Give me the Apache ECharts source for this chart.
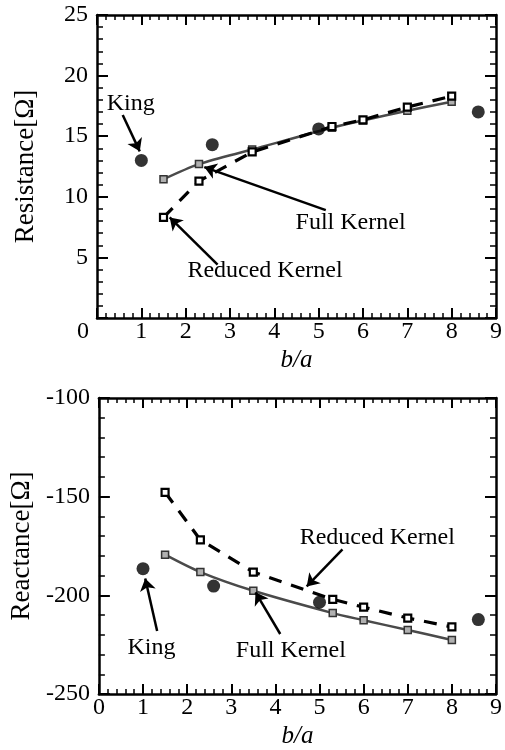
<!DOCTYPE html>
<html><head><meta charset="utf-8">
<script src="https://cdn.jsdelivr.net/npm/echarts@6/dist/echarts.min.js"></script>
<style>html,body{margin:0;padding:0;background:#fff}#c{width:505px;height:750px}</style>
</head><body><div id="c"></div>
<script>
// ---- data ----
const xKernel = [1.5, 2.3, 3.5, 5.3, 6, 7, 8];
const resFull = [11.45, 12.7, 13.9, 15.7, 16.3, 17.1, 17.85];
const resReduced = [8.3, 11.3, 13.7, 15.8, 16.35, 17.4, 18.3];
const xKing = [1, 2.6, 5, 8.6];
const resKing = [13.0, 14.3, 15.6, 17.0];
const reaFull = [-179.4, -188.2, -197.7, -209, -212.6, -217.6, -222.6];
const reaReduced = [-147.8, -171.9, -188.2, -202, -206, -211.5, -216];
const reaKing = [-186.5, -195.3, -203.5, -212.3];
const xTicks = [0, 1, 2, 3, 4, 5, 6, 7, 8, 9];
const resTicks = [0, 5, 10, 15, 20, 25];
const reaTicks = [-250, -200, -150, -100];
// annotations (data coordinates)
const annTopText = ['King', 'Full Kernel', 'Reduced Kernel'];
const annTopAt = [[0.76, 17.7], [5.72, 7.9], [3.79, 3.9]];
const annTopArrow = [[[0.58, 16.75], [0.965, 13.75]], [[5.16, 8.9], [2.42, 12.45]], [[2.72, 4.4], [1.64, 8.3]]];
const annBotText = ['Reduced Kernel', 'King', 'Full Kernel'];
const annBotAt = [[6.31, -170.7], [1.19, -226.6], [4.35, -228.1]];
const annBotArrow = [[[5.52, -176.7], [4.71, -195.5]], [[1.32, -218.1], [1.05, -191.5]], [[4.11, -219.6], [3.55, -198.5]]];

const FONT = 'Liberation Serif';
const zip = (xs, ys) => xs.map((x, i) => [x, ys[i]]);

function xAxisPair(g, zeroShift) {
  const common = {
    gridIndex: g, type: 'value', min: xTicks[0], max: xTicks[xTicks.length - 1], interval: 1,
    axisLine: { show: true, onZero: false, lineStyle: { color: '#000', width: 2.5 } },
    axisTick: { show: true, inside: true, length: 10, lineStyle: { color: '#000', width: 2 } },
    minorTick: { show: true, splitNumber: 5, length: 5, lineStyle: { color: '#000', width: 1.5 } },
    splitLine: { show: false }
  };
  return [
    Object.assign({}, common, {
      position: 'bottom',
      axisLabel: {
        show: true, margin: 2, color: '#000', fontFamily: FONT, fontSize: 24,
        formatter: v => (zeroShift && v === 0) ? '{z|0}' : String(v),
        rich: { z: { padding: [0, 28, 0, 0], fontFamily: FONT, fontSize: 24, color: '#000' } }
      },
      name: 'b/a', nameLocation: 'middle', nameGap: 30,
      nameTextStyle: { fontFamily: FONT, fontStyle: 'italic', fontSize: 25, color: '#000' }
    }),
    Object.assign({}, common, { position: 'top', axisLabel: { show: false } })
  ];
}
function yAxisPair(g, ticks, interval, name, hideMin) {
  const common = {
    gridIndex: g, type: 'value', min: ticks[0], max: ticks[ticks.length - 1], interval: interval,
    axisLine: { show: true, onZero: false, lineStyle: { color: '#000', width: 2.5 } },
    axisTick: { show: true, inside: true, length: 11, lineStyle: { color: '#000', width: 2 } },
    minorTick: { show: true, splitNumber: 5, length: 6, lineStyle: { color: '#000', width: 1.5 } },
    splitLine: { show: false }
  };
  return [
    Object.assign({}, common, {
      position: 'left',
      axisLabel: { show: true, margin: 9, color: '#000', fontFamily: FONT, fontSize: 24,
        formatter: v => (hideMin && v === ticks[0]) ? '' : String(v) },
      name: name, nameLocation: 'middle', nameGap: 58,
      nameTextStyle: { fontFamily: FONT, fontSize: 27, color: '#000' }
    }),
    Object.assign({}, common, { position: 'right', axisLabel: { show: false } })
  ];
}

function dataSeries(xi, yi, full, reduced, king) {
  return [
    { type: 'line', xAxisIndex: xi, yAxisIndex: yi, data: zip(xKernel, full), smooth: 0.3,
      lineStyle: { color: '#4a4a4a', width: 2.5 }, symbol: 'rect', symbolSize: 7,
      itemStyle: { color: '#b0b0b0', borderColor: '#333', borderWidth: 1.5 }, z: 3 },
    { type: 'line', xAxisIndex: xi, yAxisIndex: yi, data: zip(xKernel, reduced),
      lineStyle: { color: '#000', width: 3.2, type: [13, 10] }, symbol: 'rect', symbolSize: 7,
      itemStyle: { color: '#fff', borderColor: '#000', borderWidth: 2.2 }, z: 4 },
    { type: 'scatter', xAxisIndex: xi, yAxisIndex: yi, data: zip(xKing, king),
      symbol: 'circle', symbolSize: 13, itemStyle: { color: '#000' }, z: 5 }
  ];
}
function annSeries(xi, yi, texts, at, arrows) {
  return [{
    type: 'scatter', xAxisIndex: xi, yAxisIndex: yi, symbolSize: 0, silent: true, z: 6,
    data: texts.map((t, i) => ({ name: t, value: at[i] })),
    label: { show: true, position: 'inside', formatter: p => p.name,
      fontFamily: FONT, fontSize: 24, color: '#000', opacity: 1 }
  }, {
    type: 'lines', coordinateSystem: 'cartesian2d', xAxisIndex: xi, yAxisIndex: yi, silent: true, z: 6,
    symbol: ['none', 'arrow'], symbolSize: 12,
    lineStyle: { color: '#000', width: 2.5, opacity: 1, curveness: 0 },
    itemStyle: { color: '#000' },
    data: arrows.map(a => ({ coords: a }))
  }];
}

const chart = echarts.init(document.getElementById('c'), null, { renderer: 'canvas' });
chart.setOption({
  animation: false,
  backgroundColor: '#fff',
  grid: [
    { left: 97, top: 15, width: 401, height: 303 },
    { left: 97, top: 398, width: 401, height: 301 }
  ],
  xAxis: [...xAxisPair(0, true), ...xAxisPair(1, false)],
  yAxis: [...yAxisPair(0, resTicks, 5, 'Resistance[Ω]', true), ...yAxisPair(1, reaTicks, 50, 'Reactance[Ω]', false)],
  series: [
    ...dataSeries(0, 0, resFull, resReduced, resKing),
    ...annSeries(0, 0, annTopText, annTopAt, annTopArrow),
    ...dataSeries(2, 2, reaFull, reaReduced, reaKing),
    ...annSeries(2, 2, annBotText, annBotAt, annBotArrow)
  ]
});
</script></body></html>
